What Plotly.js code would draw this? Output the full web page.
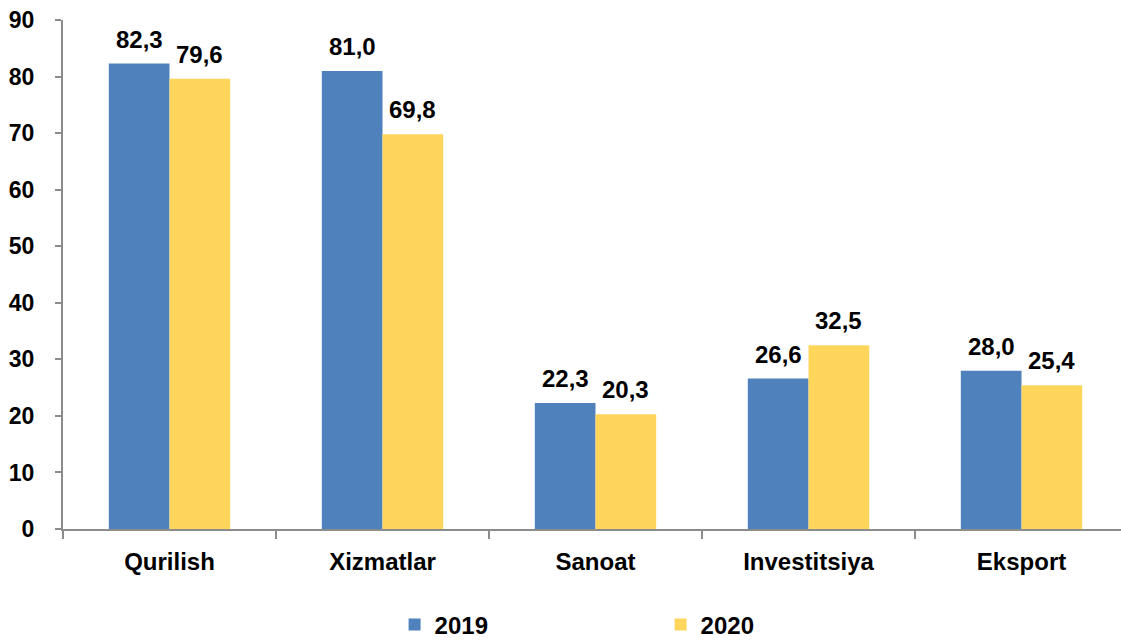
<!DOCTYPE html>
<html>
<head>
<meta charset="utf-8">
<script src="https://cdn.plot.ly/plotly-3.0.1.min.js"></script>
<style>html,body{margin:0;padding:0;background:#fff;}#chart{width:1121px;height:641px;}</style>
</head>
<body>
<div id="chart"></div>
<script>
const categories = ["Qurilish", "Xizmatlar", "Sanoat", "Investitsiya", "Eksport"];
const values2019 = [82.3, 81.0, 22.3, 26.6, 28.0];
const values2020 = [79.6, 69.8, 20.3, 32.5, 25.4];
const seriesNames = ["2019", "2020"];
const yTicks = [0, 10, 20, 30, 40, 50, 60, 70, 80, 90];

const font = "Liberation Sans, Arial, sans-serif";
const fmt = v => v.toFixed(1).replace(".", ",");
const mk = (name, vals, color) => ({
  type: "bar", name: name, x: categories, y: vals,
  marker: {color: color, line: {width: 0}},
  hoverinfo: "none"
});

const data = [
  mk(seriesNames[0], values2019, "#4F81BD"),
  mk(seriesNames[1], values2020, "#FFD65B")
];

// data labels above each bar (half a bar width left/right of category centre)
const W = 1121, H = 641, ML = 63, MR = 0;
const xRange = [-0.5, 4.467];
const pxPerCat = (W - ML - MR) / (xRange[1] - xRange[0]);
const bargap = 0.43;
const barW = pxPerCat * (1 - bargap) / 2;
const annotations = [];
[values2019, values2020].forEach((vals, s) => {
  vals.forEach((v, i) => {
    annotations.push({
      x: categories[i], y: v, xref: "x", yref: "y",
      text: fmt(v), showarrow: false,
      xanchor: "center", yanchor: "bottom",
      xshift: (s === 0 ? -1 : 1) * barW / 2, yshift: 9,
      font: {family: font, size: 24, color: "#000", weight: "bold"}
    });
  });
});

const layout = {
  width: W, height: H,
  margin: {l: ML, r: MR, t: 20, b: 112},
  paper_bgcolor: "#fff", plot_bgcolor: "#fff",
  bargap: bargap, bargroupgap: 0,
  font: {family: font, color: "#000"},
  showlegend: true,
  annotations: annotations,
  legend: {
    orientation: "h", xref: "container", yref: "container",
    x: 0.352, xanchor: "left", y: 1 - 625 / H, yanchor: "middle",
    entrywidth: 221, entrywidthmode: "pixels",
    font: {family: font, size: 24, color: "#000", weight: "bold"},
    itemclick: false, traceorder: "normal"
  },
  xaxis: {
    type: "category", range: xRange,
    showline: true, linecolor: "#8c8c8c", linewidth: 2,
    ticks: "outside", tickson: "boundaries", ticklen: 8, tickcolor: "#8c8c8c", tickwidth: 2,
    tickfont: {family: font, size: 24, color: "#000", weight: "bold"},
    ticklabelstandoff: 10,
    showgrid: false, zeroline: false, fixedrange: true, automargin: false
  },
  yaxis: {
    range: [0, 90], tickvals: yTicks, ticktext: yTicks.map(String),
    showline: true, linecolor: "#8c8c8c", linewidth: 2,
    ticks: "outside", ticklen: 6, tickcolor: "#8c8c8c", tickwidth: 2,
    tickfont: {family: font, size: 23, color: "#000", weight: "bold"},
    ticklabelstandoff: 16,
    showgrid: false, zeroline: false, fixedrange: true, automargin: false
  }
};

Plotly.newPlot("chart", data, layout, {displayModeBar: false, staticPlot: true});
</script>
</body>
</html>
